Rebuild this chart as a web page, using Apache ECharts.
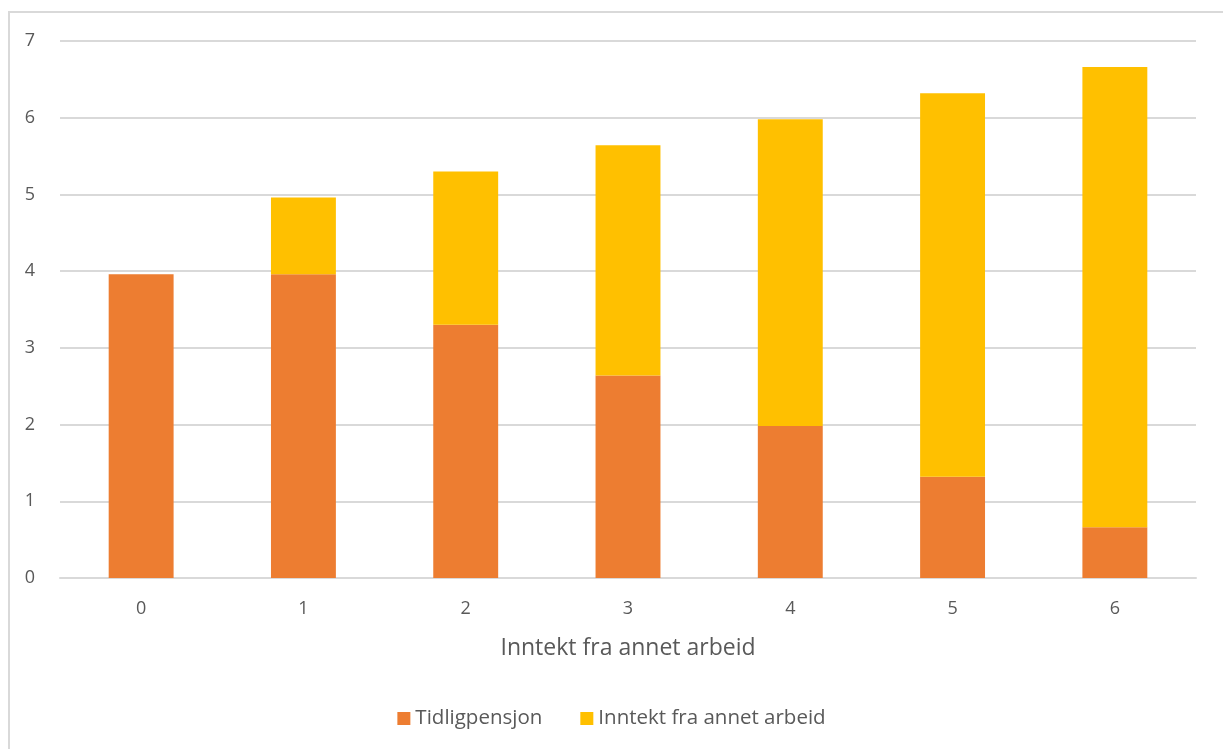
<!DOCTYPE html>
<html>
<head>
<meta charset="utf-8">
<script src="https://cdn.jsdelivr.net/npm/echarts@6/dist/echarts.min.js"></script>
<style>
html,body{margin:0;padding:0;background:#fff;}
#chart{width:1223px;height:749px;}
</style>
</head>
<body>
<div id="chart"></div>
<script>
const categories = ['0','1','2','3','4','5','6'];
const tidligpensjon = [3.96, 3.96, 3.30, 2.64, 1.98, 1.32, 0.66];
const annetArbeid = [0, 1, 2, 3, 4, 5, 6];
const seriesNames = ['Tidligpensjon', 'Inntekt fra annet arbeid'];
const xAxisTitle = 'Inntekt fra annet arbeid';

const chart = echarts.init(document.getElementById('chart'));
const font = '"Open Sans", Calibri, Carlito, sans-serif';
chart.setOption({
  animation: false,
  textStyle: { fontFamily: font },
  graphic: [{
    type: 'rect', left: 8, top: 11, z: -1,
    shape: { width: 1230, height: 760 },
    style: { fill: '#fff', stroke: '#d9d9d9', lineWidth: 2 }
  }],
  grid: { left: 60, right: 27, top: 41, bottom: 171, containLabel: false },
  legend: {
    bottom: 15, left: 'center', itemWidth: 13, itemHeight: 13, itemGap: 38,
    icon: 'rect',
    textStyle: { color: '#595959', fontSize: 20.5, fontFamily: font },
    data: seriesNames
  },
  xAxis: {
    type: 'category', data: categories,
    name: xAxisTitle, nameLocation: 'middle', nameGap: 59,
    nameTextStyle: { color: '#595959', fontSize: 23, fontFamily: font },
    axisLine: { lineStyle: { color: '#d9d9d9', width: 2 } },
    axisTick: { show: false },
    axisLabel: { color: '#595959', fontSize: 18, margin: 22, fontFamily: font }
  },
  yAxis: {
    type: 'value', min: 0, max: 7, interval: 1,
    axisLine: { show: false }, axisTick: { show: false },
    axisLabel: { color: '#595959', fontSize: 18, margin: 25, fontFamily: font },
    splitLine: { lineStyle: { color: '#d9d9d9', width: 2 } }
  },
  series: [
    { name: seriesNames[0], type: 'bar', stack: 'a', data: tidligpensjon, barWidth: '40%',
      itemStyle: { color: '#ED7D31' } },
    { name: seriesNames[1], type: 'bar', stack: 'a', data: annetArbeid, barWidth: '40%',
      itemStyle: { color: '#FFC000' } }
  ]
});
</script>
</body>
</html>
